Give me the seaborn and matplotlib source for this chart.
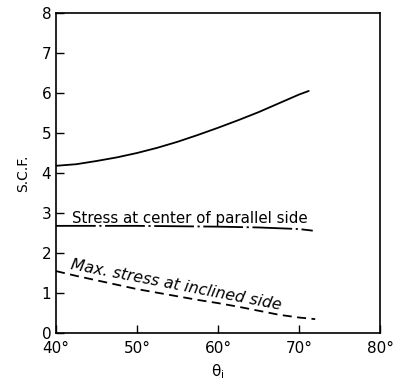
import matplotlib
matplotlib.use("Agg")
import matplotlib.pyplot as plt
import seaborn as sns
import pandas as pd

sns.set_theme(style="ticks")
plt.rcParams['font.family'] = ['DejaVu Sans']

theta_top = [40, 42.5, 45, 47.5, 50, 52.5, 55, 57.5, 60, 62.5, 65, 67.5, 70, 71.2]
scf_top = [4.18, 4.22, 4.3, 4.39, 4.5, 4.63, 4.78, 4.95, 5.13, 5.32, 5.52, 5.74, 5.96, 6.05]

theta_mid = [40, 45, 50, 55, 60, 65, 70, 71.7]
scf_mid = [2.68, 2.68, 2.68, 2.67, 2.66, 2.64, 2.6, 2.56]

theta_bot = [40, 42.5, 45, 47.5, 50, 52.5, 55, 57.5, 60, 62.5, 65, 67.5, 70, 72]
scf_bot = [1.55, 1.43, 1.32, 1.21, 1.1, 1.01, 0.92, 0.83, 0.75, 0.66, 0.56, 0.46, 0.39, 0.35]

x_ticks = [40, 50, 60, 70, 80]
x_labels = ["40°", "50°", "60°", "70°", "80°"]
y_ticks = [0, 1, 2, 3, 4, 5, 6, 7, 8]

fig = plt.figure(figsize=(4.0, 3.91), dpi=100)
ax = fig.add_axes([0.14, 0.148, 0.81, 0.819])

sns.lineplot(x=theta_top, y=scf_top, ax=ax, color="black", linewidth=1.3)
sns.lineplot(x=theta_mid, y=scf_mid, ax=ax, color="black", linewidth=1.3,
             linestyle=(0, (22, 2, 1.2, 2)))
sns.lineplot(x=theta_bot, y=scf_bot, ax=ax, color="black", linewidth=1.3,
             linestyle=(0, (5, 3)))

ax.set_xlim(40, 80)
ax.set_ylim(0, 8)
ax.set_xticks(x_ticks)
ax.set_xticklabels(x_labels)
ax.set_yticks(y_ticks)
ax.tick_params(direction="in", length=6, width=1, labelsize=11, color="black",
               labelcolor="black")
ax.tick_params(axis="x", pad=6)
for s in ax.spines.values():
    s.set_visible(True)
    s.set_color("black")
    s.set_linewidth(1.2)
ax.set_facecolor("white")

ax.set_xlabel("θ$_{\\mathregular{i}}$", fontsize=11, color="black", labelpad=4)
ax.set_ylabel("S.C.F.", fontsize=10, color="black", labelpad=8)

ax.text(42.0, 2.76, "Stress at center of parallel side", fontsize=10.8,
        color="black", ha="left", va="baseline")
ax.text(41.7, 1.6, "Max. stress at inclined side", fontsize=11.3, style="italic",
        color="black", ha="left", va="baseline", rotation=-11,
        rotation_mode="anchor")

fig.savefig("out.png", dpi=100, facecolor="white")
